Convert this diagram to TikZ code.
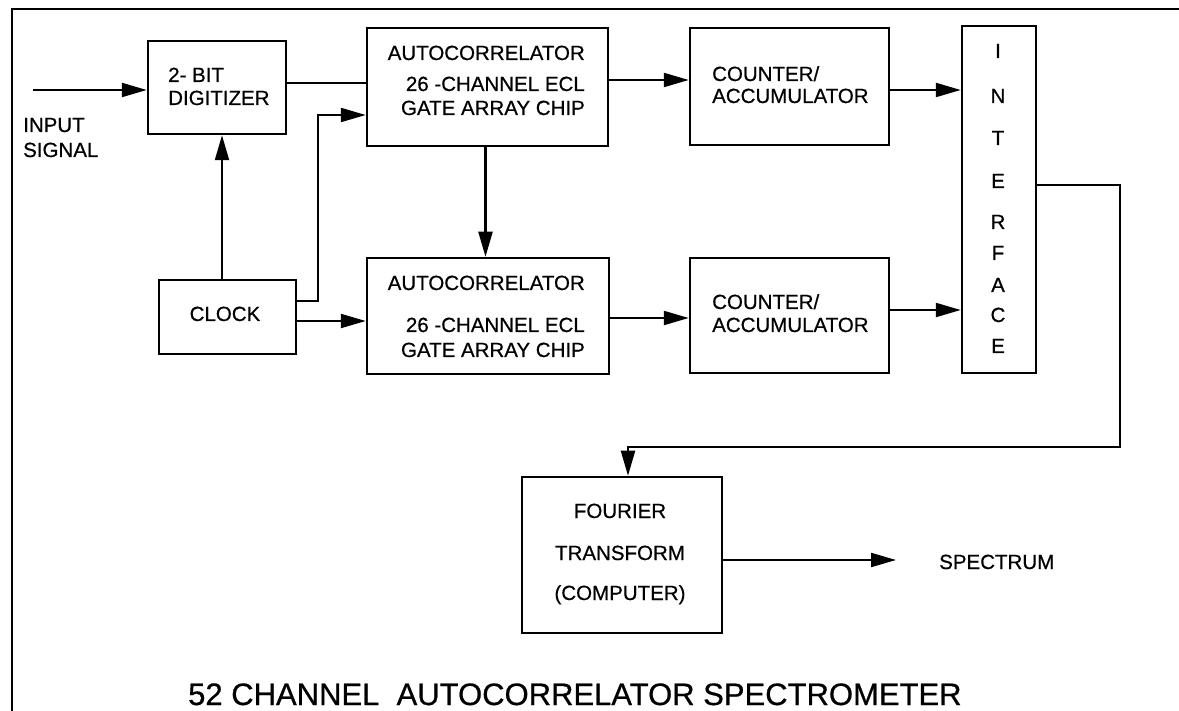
\documentclass[tikz,border=0pt]{standalone}
\usepackage{fontspec}
\setmainfont{Liberation Sans}[FakeBold=0.6]
\usetikzlibrary{arrows.meta}
\begin{document}
\begin{tikzpicture}[x=1pt,y=-1pt,
  blk/.style={draw,line width=2.5pt,minimum width=#1,inner sep=0pt},
  lbl/.style={inner sep=0pt,font=\fontsize{20.5}{24}\selectfont},
  conn/.style={line width=2.2pt},
  arr/.style={line width=2.2pt,-{Triangle[length=25pt,width=14pt]}}]
\useasboundingbox (0,0) rectangle (1179,711);
% frame
\draw[line width=2.2pt] (1179,9) -- (12,9) -- (12,711);
% boxes
\node[blk=138pt,minimum height=93pt] (dig) at (217,87.5) {};
\node[blk=137pt,minimum height=74pt] (clk) at (227.5,317) {};
\node[blk=241pt,minimum height=118pt] (ac1) at (487.5,87) {};
\node[blk=242pt,minimum height=116pt] (ac2) at (488,316) {};
\node[blk=199pt,minimum height=117pt] (cnt1) at (789.5,86.5) {};
\node[blk=199pt,minimum height=115pt] (cnt2) at (789.5,315.5) {};
\node[blk=74pt,minimum height=347pt] (intf) at (999,199.5) {};
\node[blk=200pt,minimum height=156pt] (four) at (622,555) {};
% texts
\node[lbl,anchor=base west] (in1) at (23,132) {INPUT};
\node[lbl,anchor=base west] (in2) at (23,157) {SIGNAL};
\coordinate (in) at (33,90);
\node[lbl,anchor=base west] at (168,82) {2- BIT};
\node[lbl,anchor=base west] at (168,105) {DIGITIZER};
\node[lbl,anchor=base] at (225,321) {CLOCK};
\node[lbl,anchor=base east] at (585,60) {AUTOCORRELATOR};
\node[lbl,anchor=base east] at (585,91) {26 -CHANNEL ECL};
\node[lbl,anchor=base east] at (585,115) {GATE ARRAY CHIP};
\node[lbl,anchor=base east] at (585,290) {AUTOCORRELATOR};
\node[lbl,anchor=base east] at (585,332) {26 -CHANNEL ECL};
\node[lbl,anchor=base east] at (585,357) {GATE ARRAY CHIP};
\node[lbl,anchor=base west] at (712,81) {COUNTER/};
\node[lbl,anchor=base west] at (712,103) {ACCUMULATOR};
\node[lbl,anchor=base west] at (712,309) {COUNTER/};
\node[lbl,anchor=base west] at (712,332) {ACCUMULATOR};
\foreach \l/\yy in {I/58,N/103,T/145,E/188,R/229,F/260,A/292,C/322,E/353}
  \node[lbl,anchor=base] at (998,\yy) {\l};
\node[lbl,anchor=base] at (620,518) {FOURIER};
\node[lbl,anchor=base] at (620,560) {TRANSFORM};
\node[lbl,anchor=base] at (620,600) {(COMPUTER)};
\node[lbl,anchor=base west] (spec) at (939,569) {SPECTRUM};
\node[inner sep=0pt,anchor=base west,font=\fontsize{31}{36}\selectfont] (title) at (188,705) {52 CHANNEL\ \ AUTOCORRELATOR SPECTROMETER};
% connectors
\draw[arr] (in) -- (in -| dig.west);
\draw[conn] ([yshift=4.5pt]dig.east) -- ([yshift=4.5pt]dig.east -| ac1.west);
\draw[arr] ([xshift=-5.5pt]clk.north) -- ([xshift=-5.5pt]clk.north |- dig.south);
\draw[arr] ([yshift=16pt]clk.east) -- ++(21,0) |- ([yshift=-28pt]ac1.west);
\draw[arr] ([yshift=-4pt]clk.east) -- ([yshift=-4pt]clk.east -| ac2.west);
\draw[arr] ([xshift=-2pt]ac1.south) -- ([xshift=-2pt]ac1.south |- ac2.north);
\draw[arr] ([yshift=7pt]ac1.east) -- ([yshift=7pt]ac1.east -| cnt1.west);
\draw[arr] ([yshift=-2pt]ac2.east) -- ([yshift=-2pt]ac2.east -| cnt2.west);
\draw[arr] ([yshift=-3.5pt]cnt1.east) -- ([yshift=-3.5pt]cnt1.east -| intf.west);
\draw[arr] ([yshift=5.5pt]cnt2.east) -- ([yshift=5.5pt]cnt2.east -| intf.west);
\draw[arr] ([yshift=14.5pt]intf.east) -- ++(83,0) -- ++(0,262) -| ([xshift=6pt]four.north);
\draw[arr,shorten >=43pt] ([yshift=-5pt]four.east) -- ([yshift=-5pt]four.east -| spec.west);
\end{tikzpicture}
\end{document}
